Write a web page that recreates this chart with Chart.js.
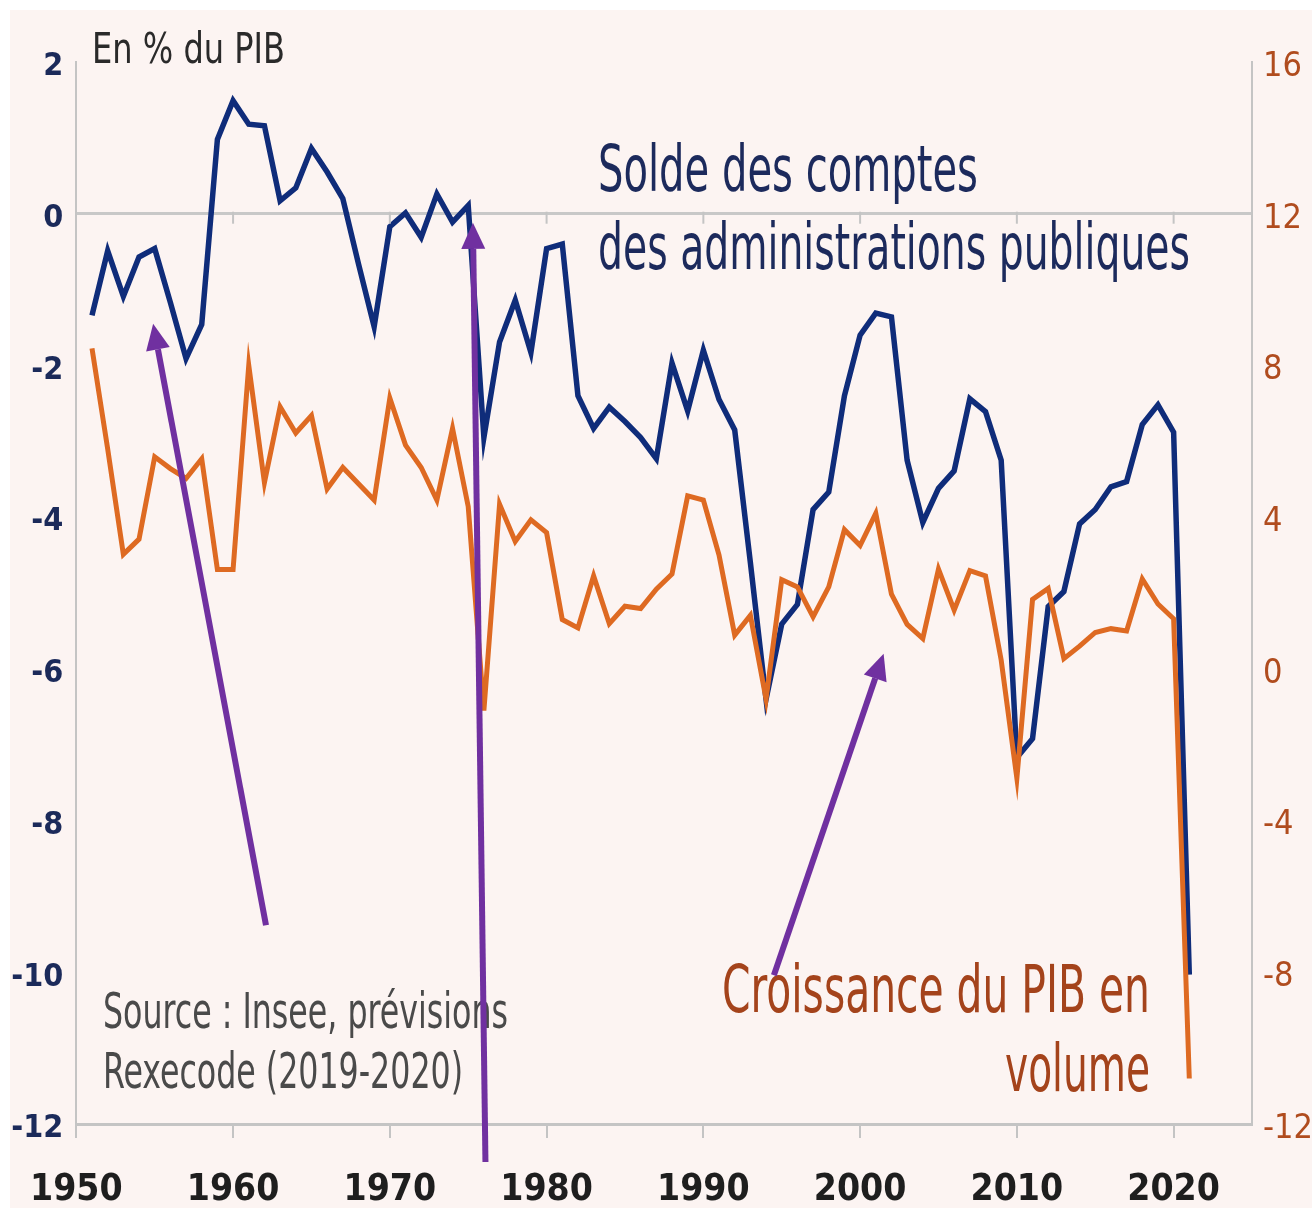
<!DOCTYPE html>
<html>
<head>
<meta charset="utf-8">
<script src="https://cdn.jsdelivr.net/npm/chart.js@4.4.1/dist/chart.umd.min.js"></script>
<style>
  html, body { margin: 0; padding: 0; background: #ffffff; }
  #wrap { position: absolute; left: 0; top: 0; width: 1312px; height: 1208px; }
</style>
</head>
<body>
<div id="wrap"><canvas id="myChart" width="1312" height="1208"></canvas></div>
<script>
var NARROW = '"Liberation Sans Narrow", "DejaVu Sans Condensed", "Liberation Sans", sans-serif';

// valeurs (position de l'annee sur l'axe)
var data = {
  start: 1951,
  // solde des comptes des APU, en % du PIB (axe gauche)
  solde: [
    -1.34, -0.49, -1.09, -0.57, -0.46, -1.17, -1.91, -1.46, 0.98, 1.49,
    1.18, 1.16, 0.17, 0.34, 0.86, 0.55, 0.20, -0.66, -1.49, -0.17,
    0.01, -0.31, 0.26, -0.11, 0.11, -2.95, -1.69, -1.14, -1.83, -0.46,
    -0.40, -2.40, -2.83, -2.55, -2.74, -2.95, -3.23, -1.97, -2.60, -1.80,
    -2.45, -2.85, -4.60, -6.40, -5.41, -5.15, -3.90, -3.67, -2.40, -1.60,
    -1.31, -1.36, -3.25, -4.07, -3.62, -3.39, -2.44, -2.61, -3.25, -7.17,
    -6.92, -5.18, -4.98, -4.09, -3.90, -3.60, -3.53, -2.78, -2.52, -2.88,
    -10.03
  ],
  // croissance du PIB en volume, en % (axe droit)
  pib: [
    8.45, 5.80, 3.02, 3.42, 5.59, 5.28, 5.02, 5.54, 2.62, 2.62,
    8.00, 4.91, 6.91, 6.22, 6.68, 4.74, 5.31, 4.88, 4.45, 7.14,
    5.90, 5.31, 4.45, 6.34, 4.28, -1.10, 4.34, 3.36, 3.93, 3.59,
    1.30, 1.08, 2.45, 1.19, 1.65, 1.59, 2.10, 2.50, 4.56, 4.45,
    3.00, 0.89, 1.41, -0.80, 2.35, 2.16, 1.37, 2.16, 3.67, 3.25,
    4.10, 1.97, 1.17, 0.80, 2.63, 1.55, 2.59, 2.45, 0.23, -2.88,
    1.83, 2.12, 0.27, 0.60, 0.96, 1.06, 1.00, 2.37, 1.71, 1.32,
    -10.80
  ]
};

var soldePts = data.solde.map(function (v, i) {
  return { x: data.start + i, y: v };
});
var pibPts = data.pib.map(function (v, i) {
  return { x: data.start + i, y: v };
});

// fleches violettes (coordonnees : annee / valeur axe gauche)
var arrows = [
  { from: [1962.1, -9.38], to: [1954.9, -1.45] },
  { from: [1976.1, -12.5], to: [1975.3, -0.12] },
  { from: [1994.5, -10.04], to: [2001.5, -5.8] }
];

// textes
var notes = [
  { t: "En % du PIB", x: 92, y: 63, w: 193, size: 43, color: "#2a2a2a" },
  { t: "Solde des comptes", x: 598, y: 191, w: 380, size: 64, color: "#1c2a5c" },
  { t: "des administrations publiques", x: 598, y: 269, w: 592, size: 64, color: "#1c2a5c" },
  { t: "Source : Insee, prévisions", x: 103, y: 1028, w: 405, size: 50, color: "#4a4a4a" },
  { t: "Rexecode (2019-2020)", x: 103, y: 1088, w: 360, size: 50, color: "#4a4a4a" },
  { t: "Croissance du PIB en", x: 722, y: 1012, w: 428, size: 66, color: "#a4431b" },
  { t: "volume", x: 1150, y: 1091, w: 145, size: 66, color: "#a4431b", align: "right" }
];

function fitText(c, n) {
  c.save();
  c.font = n.size + "px " + NARROW;
  var m = c.measureText(n.t).width;
  c.fillStyle = n.color;
  c.textAlign = "left";
  c.textBaseline = "alphabetic";
  c.translate(n.align === "right" ? n.x - n.w : n.x, n.y);
  c.scale(n.w / m, 1);
  c.fillText(n.t, 0, 0);
  c.restore();
}

var decor = {
  id: "decor",
  beforeDraw: function (chart) {
    var c = chart.ctx;
    c.save();
    c.fillStyle = "#ffffff";
    c.fillRect(0, 0, chart.width, chart.height);
    c.fillStyle = "#fcf4f2";
    c.fillRect(10, 10, chart.width - 10, chart.height - 10);
    c.restore();
  },
  afterDatasetsDraw: function (chart) {
    var c = chart.ctx;
    var xs = chart.scales.x, ys = chart.scales.y;
    var y0 = ys.getPixelForValue(0);
    // petites graduations sur la ligne du zero
    c.save();
    c.strokeStyle = "#c4c4c4";
    c.lineWidth = 2;
    xs.ticks.forEach(function (t) {
      if (t.value === 1950) return;
      var px = xs.getPixelForValue(t.value);
      c.beginPath();
      c.moveTo(px, y0 - 2);
      c.lineTo(px, y0 + 10);
      c.stroke();
    });
    c.restore();
  },
  afterDraw: function (chart) {
    var c = chart.ctx;
    var xs = chart.scales.x, ys = chart.scales.y;
    notes.forEach(function (n) { fitText(c, n); });

    c.save();
    c.strokeStyle = "#7030a0";
    c.fillStyle = "#7030a0";
    c.lineWidth = 6;
    arrows.forEach(function (a) {
      var x1 = xs.getPixelForValue(a.from[0]), y1 = ys.getPixelForValue(a.from[1]);
      var x2 = xs.getPixelForValue(a.to[0]), y2 = ys.getPixelForValue(a.to[1]);
      var ang = Math.atan2(y2 - y1, x2 - x1);
      var hl = 26, hw = 12;
      var bx = x2 - hl * Math.cos(ang), by = y2 - hl * Math.sin(ang);
      c.beginPath();
      c.moveTo(x1, y1);
      c.lineTo(bx, by);
      c.stroke();
      c.beginPath();
      c.moveTo(x2, y2);
      c.lineTo(bx + hw * Math.sin(ang), by - hw * Math.cos(ang));
      c.lineTo(bx - hw * Math.sin(ang), by + hw * Math.cos(ang));
      c.closePath();
      c.fill();
    });
    c.restore();
  }
};

var ctx = document.getElementById("myChart").getContext("2d");
var chart = new Chart(ctx, {
  type: "line",
  data: {
    datasets: [
      {
        label: "Croissance du PIB en volume",
        data: pibPts,
        yAxisID: "y2",
        borderColor: "#de6a22",
        backgroundColor: "transparent",
        borderWidth: 5,
        pointRadius: 0,
        fill: false,
        tension: 0,
        order: 0
      },
      {
        label: "Solde des comptes des administrations publiques",
        data: soldePts,
        yAxisID: "y",
        borderColor: "#0f2c7a",
        backgroundColor: "transparent",
        borderWidth: 5.5,
        pointRadius: 0,
        fill: false,
        tension: 0,
        order: 1
      }
    ]
  },
  options: {
    responsive: false,
    animation: false,
    layout: { padding: { top: 62, left: 0, right: 0, bottom: 0 } },
    plugins: {
      legend: { display: false },
      tooltip: { enabled: false }
    },
    scales: {
      x: {
        type: "linear",
        min: 1950,
        max: 2025,
        afterBuildTicks: function (s) {
          var t = [];
          for (var v = 1950; v <= 2020; v += 10) t.push({ value: v });
          s.ticks = t;
        },
        afterFit: function (s) { s.height = 84; },
        grid: { drawOnChartArea: false, drawTicks: true, tickLength: 14, color: "#c4c4c4", lineWidth: 2 },
        border: { display: true, color: "#c4c4c4", width: 3 },
        ticks: {
          stepSize: 10,
          maxRotation: 0,
          autoSkip: false,
          padding: 30,
          color: "#1e1e1e",
          font: { family: NARROW, size: 37, weight: "bold" },
          callback: function (v) { return String(v); }
        }
      },
      y: {
        position: "left",
        min: -12,
        max: 2,
        afterFit: function (s) { s.width = 75; },
        grid: {
          drawTicks: false,
          lineWidth: 3,
          color: function (c) { return c.tick && c.tick.value === 0 ? "#c8c8c8" : "rgba(0,0,0,0)"; }
        },
        border: { display: true, color: "#c4c4c4", width: 2 },
        ticks: {
          stepSize: 2,
          padding: 13,
          labelOffset: 5,
          color: "#1b2a5a",
          font: { family: NARROW, size: 32, weight: "bold" }
        }
      },
      y2: {
        position: "right",
        min: -12,
        max: 16,
        afterFit: function (s) { s.width = 60; },
        grid: { drawOnChartArea: false, drawTicks: false },
        border: { display: true, color: "#c4c4c4", width: 2 },
        ticks: {
          stepSize: 4,
          padding: 11,
          labelOffset: 5,
          color: "#b04c1e",
          font: { family: NARROW, size: 34 }
        }
      }
    }
  },
  plugins: [decor]
});
</script>
</body>
</html>
